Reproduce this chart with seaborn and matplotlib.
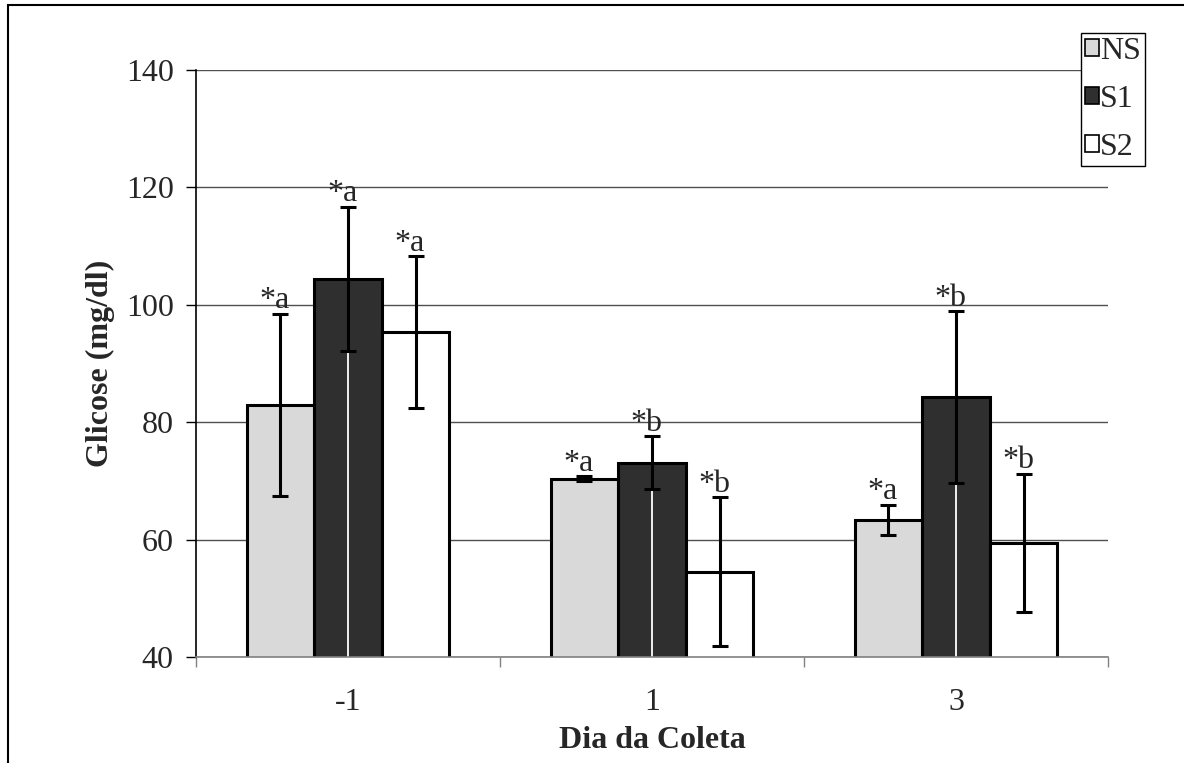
import matplotlib
matplotlib.use("Agg")
import matplotlib.pyplot as plt
import seaborn as sns
import pandas as pd
import numpy as np
from matplotlib.patches import Patch, Rectangle

# ---- data ----
days = ["-1", "1", "3"]
groups = ["NS", "S1", "S2"]
ns_mean = [83.0, 70.4, 63.3]
ns_sd = [15.5, 0.4, 2.6]
s1_mean = [104.4, 73.1, 84.3]
s1_sd = [12.3, 4.5, 14.6]
s2_mean = [95.4, 54.5, 59.4]
s2_sd = [12.9, 12.7, 11.8]
ns_sig = ["*a", "*a", "*a"]
s1_sig = ["*a", "*b", "*b"]
s2_sig = ["*a", "*b", "*b"]
y_ticks = [40, 60, 80, 100, 120, 140]

means = {"NS": ns_mean, "S1": s1_mean, "S2": s2_mean}
sds = {"NS": ns_sd, "S1": s1_sd, "S2": s2_sd}
sigs = {"NS": ns_sig, "S1": s1_sig, "S2": s2_sig}

df = pd.DataFrame(
    [(d, g, means[g][i], sds[g][i], sigs[g][i])
     for g in groups for i, d in enumerate(days)],
    columns=["dia", "grupo", "glicose", "sd", "sig"],
)

sns.set_style("white")
plt.rcParams["font.family"] = ["Liberation Serif", "DejaVu Serif"]

colors = {"NS": "#d9d9d9", "S1": "#2f2f2f", "S2": "#ffffff"}

fig = plt.figure(figsize=(11.84, 7.63), dpi=100)
ax = fig.add_axes([196 / 1184, 1 - 657 / 763, (1108 - 196) / 1184, (657 - 70) / 763])

sns.barplot(data=df, x="dia", y="glicose", hue="grupo", order=days,
            hue_order=groups, palette=colors, width=0.667, gap=0,
            edgecolor="black", linewidth=2.2, errorbar=None, ax=ax,
            legend=False, saturation=1)

# error bars, artefact line and significance labels
for g, cont in zip(groups, ax.containers):
    sub = df[df.grupo == g].set_index("dia").loc[days]
    xs = [b.get_x() + b.get_width() / 2 for b in cont]
    if g == "S1":
        for x, m in zip(xs, sub.glicose):
            ax.plot([x, x], [40, m], color="white", lw=1.3, zorder=1.5)
    ax.errorbar(xs, sub.glicose, yerr=sub.sd, fmt="none", ecolor="black",
                elinewidth=2.2, capsize=5.8, capthick=2.2, zorder=3)
    for x, m, s, t in zip(xs, sub.glicose, sub.sd, sub.sig):
        ax.annotate(t, (x, m + s), xytext=(-4, 4), textcoords="offset points",
                    ha="center", va="baseline", fontsize=23)

ax.set_ylim(40, 140)
ax.set_xlim(-0.5, 2.5)
ax.set_yticks(y_ticks)
ax.yaxis.grid(True, color="#505050", lw=1.0)
ax.set_axisbelow(True)

ax.set_xticks(range(len(days)))
ax.set_xticklabels(days)
ax.set_xticks([-0.5, 0.5, 1.5, 2.5], minor=True)
ax.tick_params(axis="x", which="major", length=0, pad=22, labelsize=23)
ax.tick_params(axis="x", which="minor", length=7, width=1, color="#808080",
               direction="out", bottom=True)
ax.tick_params(axis="y", length=7, width=1, color="black", direction="out",
               left=True, pad=9, labelsize=23)

for side in ["top", "right"]:
    ax.spines[side].set_visible(False)
ax.spines["left"].set_color("black")
ax.spines["left"].set_linewidth(1.2)
ax.spines["bottom"].set_color("#808080")
ax.spines["bottom"].set_linewidth(1.2)

ax.set_xlabel("Dia da Coleta", fontsize=23, fontweight="bold", labelpad=7)
ax.set_ylabel("Glicose (mg/dl)", fontsize=23, fontweight="bold", labelpad=8)

handles = [Patch(facecolor=colors[g], edgecolor="black", lw=1.2) for g in groups]
leg = ax.legend(handles, groups, loc="upper right",
                bbox_to_anchor=(1145 / 1184, 1 - 33 / 763),
                bbox_transform=fig.transFigure, borderaxespad=0,
                fontsize=23, frameon=True, fancybox=False,
                handlelength=0.45, handleheight=0.45, handletextpad=0.03,
                labelspacing=0.6, borderpad=0.12)
leg.get_frame().set_edgecolor("black")
leg.get_frame().set_linewidth(1.0)
leg.get_frame().set_alpha(1)

# outer frame of the figure (right and bottom edges cropped)
fig.patches.append(Rectangle((8 / 1184, -0.05), 1.1, 1 - 5 / 763 + 0.05,
                             transform=fig.transFigure, fill=False,
                             edgecolor="black", lw=1.5))

fig.savefig("out.png", dpi=100)
